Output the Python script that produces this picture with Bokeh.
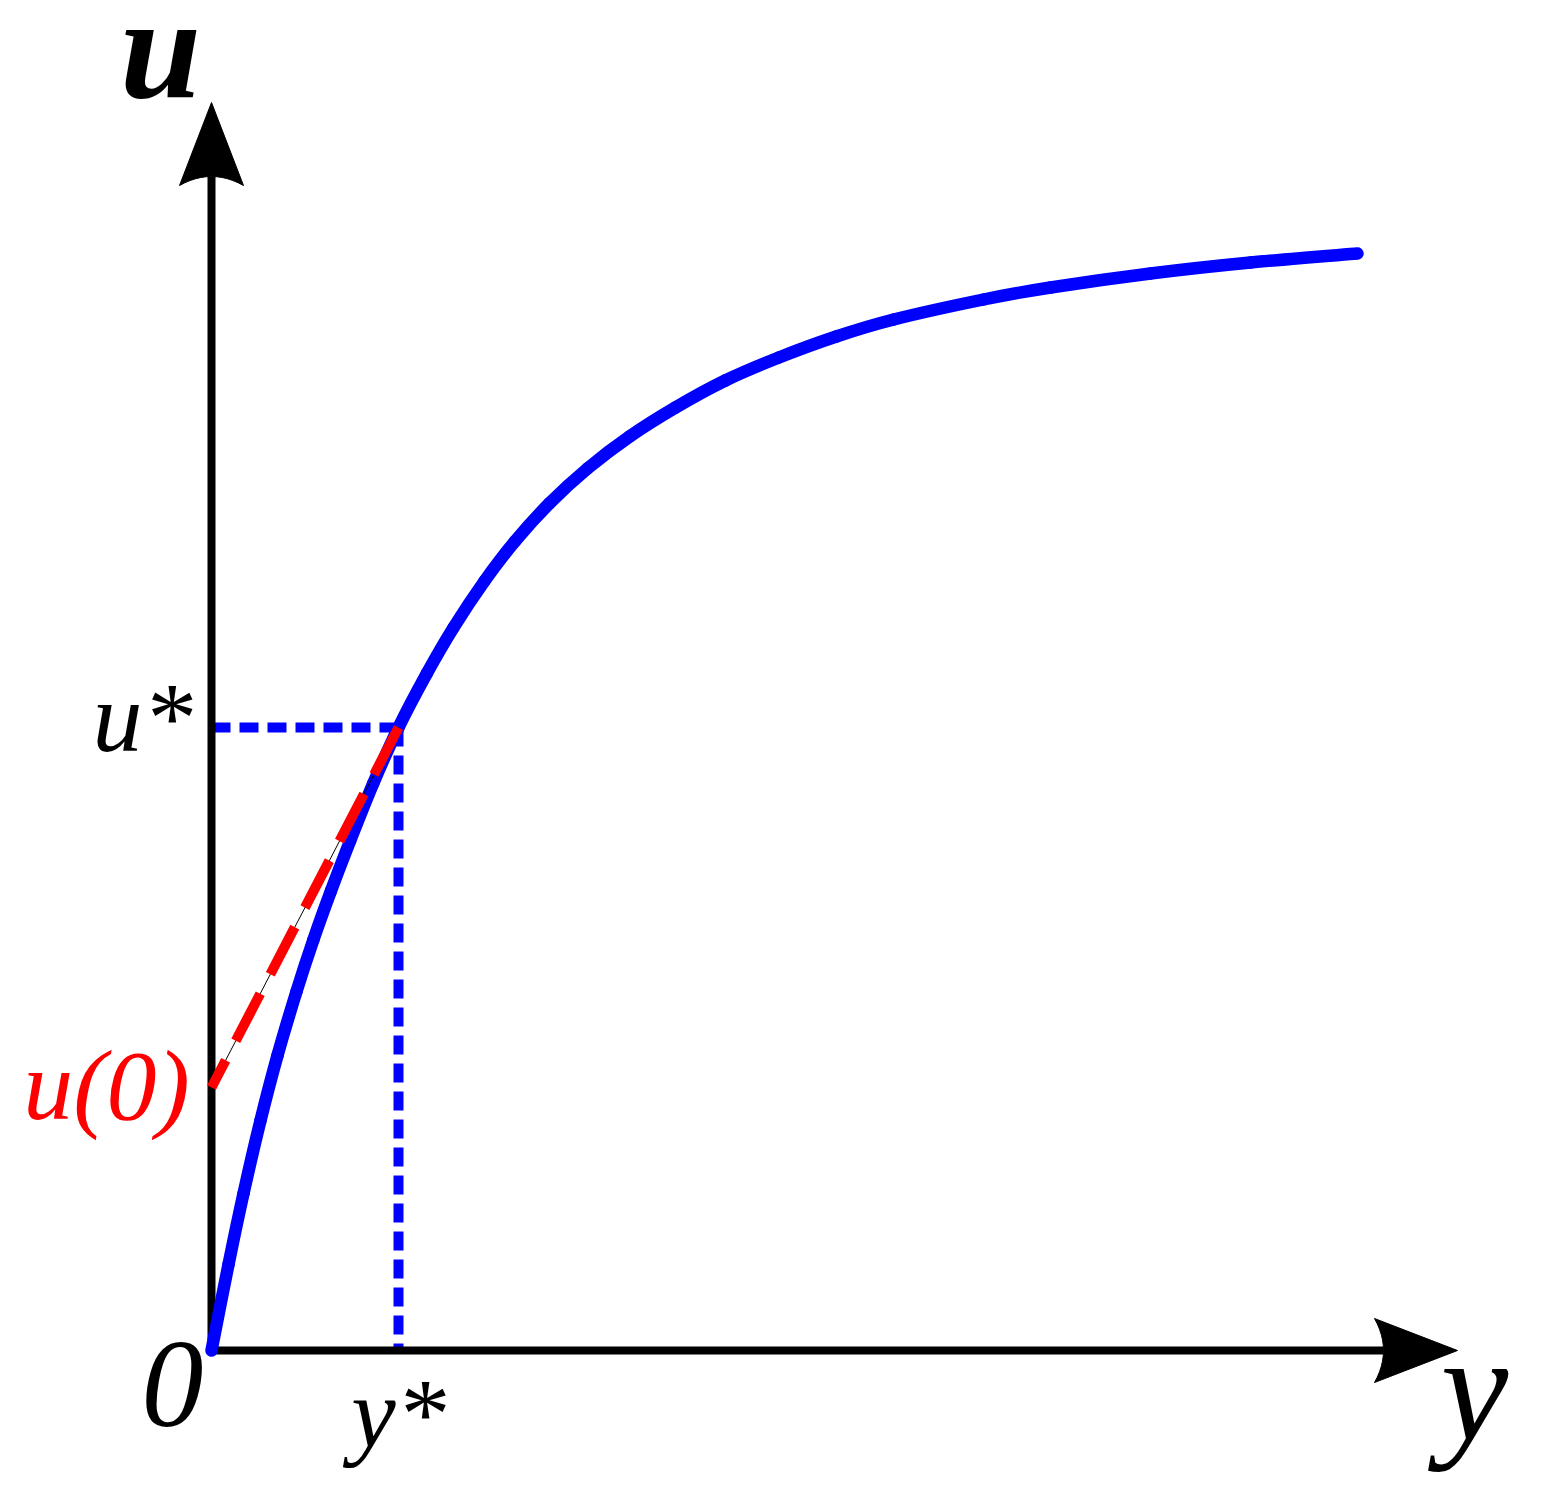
from bokeh.plotting import figure
from bokeh.models import Range1d, Label
from bokeh.embed import file_html
from bokeh.resources import INLINE

# ---- data (y = horizontal, u = vertical) ----
CURVE_Y = [0, 0.17, 0.32, 0.49, 0.66, 0.85, 1.02, 1.196, 1.388, 1.617, 1.87, 2.153, 2.421,
           2.727, 3.033, 3.378, 3.760, 4.181, 4.640, 5.138, 5.674, 6.248, 6.822, 7.72, 8.39,
           9.39, 10.39, 11.46]
CURVE_U = [0, 0.86, 1.57, 2.30, 2.95, 3.59, 4.11, 4.60, 5.10, 5.67, 6.23, 6.77, 7.23,
           7.69, 8.09, 8.47, 8.82, 9.14, 9.43, 9.70, 9.93, 10.14, 10.31, 10.51, 10.63,
           10.77, 10.88, 10.97]
Y_STAR = 1.87
U_STAR = 6.23
U_ZERO = 2.63          # intercept of the tangent at (y*, u*)
X_AXIS_TIP = 12.46
U_AXIS_TIP = 12.48

# ---- layout ----
W, H = 1529, 1490
SCALE = 100.0                 # pixels per unit
ORIGIN = (211, 1350)          # origin position inside the figure, pixels
HEAD_LEN, HEAD_HW, HEAD_NOTCH = 0.83, 0.32, 0.09

p = figure(width=W, height=H,
           x_range=Range1d(-ORIGIN[0] / SCALE, (W - ORIGIN[0]) / SCALE),
           y_range=Range1d(-(H - ORIGIN[1]) / SCALE, ORIGIN[1] / SCALE),
           output_backend="svg", toolbar_location=None,
           x_axis_location=None, y_axis_location=None,
           min_border=0, outline_line_color=None,
           background_fill_color="white", border_fill_color="white")
p.grid.visible = False

BLUE = "#0000FF"
RED = "#FF0000"

# blue dashed guide lines
p.line([0, Y_STAR], [U_STAR, U_STAR], line_color=BLUE, line_width=10, line_dash="19 9", line_cap="butt")
p.line([Y_STAR, Y_STAR], [U_STAR, 0], line_color=BLUE, line_width=10, line_dash="19 9", line_cap="butt")

# axes
base_x = X_AXIS_TIP - HEAD_LEN + HEAD_NOTCH
base_u = U_AXIS_TIP - HEAD_LEN + HEAD_NOTCH
p.segment(x0=[-0.04, 0], y0=[0, -0.04], x1=[base_x, 0], y1=[0, base_u],
          line_color="black", line_width=8, line_cap="butt")


def head(tip, along_is_x):
    n = 12
    back = tip - HEAD_LEN
    a_pts, c_pts = [tip], [0.0]
    for i in range(n + 1):
        t = -1 + 2 * i / n
        a_pts.append(back + HEAD_NOTCH * (1 - t * t))
        c_pts.append(HEAD_HW * t)
    if along_is_x:
        return a_pts, c_pts
    return c_pts, a_pts


hx1, hy1 = head(X_AXIS_TIP, True)
hx2, hy2 = head(U_AXIS_TIP, False)
p.patches([hx1, hx2], [hy1, hy2], fill_color="black", line_color="black", line_width=1)

# main curve: smooth path through the read points (Catmull-Rom -> cubic Bezier segments)
n = len(CURVE_Y)
P = list(zip(CURVE_Y, CURVE_U))
x0, y0, x1, y1, cx0, cy0, cx1, cy1 = [], [], [], [], [], [], [], []
for i in range(n - 1):
    pm = P[i - 1] if i > 0 else P[i]
    a, b = P[i], P[i + 1]
    pn = P[i + 2] if i + 2 < n else P[i + 1]
    x0.append(a[0]); y0.append(a[1]); x1.append(b[0]); y1.append(b[1])
    cx0.append(a[0] + (b[0] - pm[0]) / 6); cy0.append(a[1] + (b[1] - pm[1]) / 6)
    cx1.append(b[0] - (pn[0] - a[0]) / 6); cy1.append(b[1] - (pn[1] - a[1]) / 6)
p.bezier(x0=x0, y0=y0, x1=x1, y1=y1, cx0=cx0, cy0=cy0, cx1=cx1, cy1=cy1,
         line_color=BLUE, line_width=12.5, line_cap="round")

# tangent line: thin black + red dashes
p.line([Y_STAR, 0], [U_STAR, U_ZERO], line_color="black", line_width=1)
p.line([Y_STAR, 0], [U_STAR, U_ZERO], line_color=RED, line_width=10, line_dash="53 22", line_cap="butt")

FONT = "Liberation Serif"


def lab(x, y, text, size, color="black", style="italic", align="center"):
    p.add_layout(Label(x=x, y=y, text=text, text_font=FONT, text_font_size=f"{size}px",
                       text_font_style=style, text_color=color, text_align=align,
                       text_baseline="alphabetic"))


lab(-0.51, 13.03, "u", 146, style="bold italic")
lab(12.63, -0.37, "y", 152)
lab(-0.19, 6.33, "u*", 100, align="right")
lab(1.87, -0.63, "y*", 100)
lab(-0.39, -0.34, "0", 124)
lab(-1.05, 2.65, "u(0)", 100, color=RED)

open("out.html", "w").write(file_html(p, INLINE))
